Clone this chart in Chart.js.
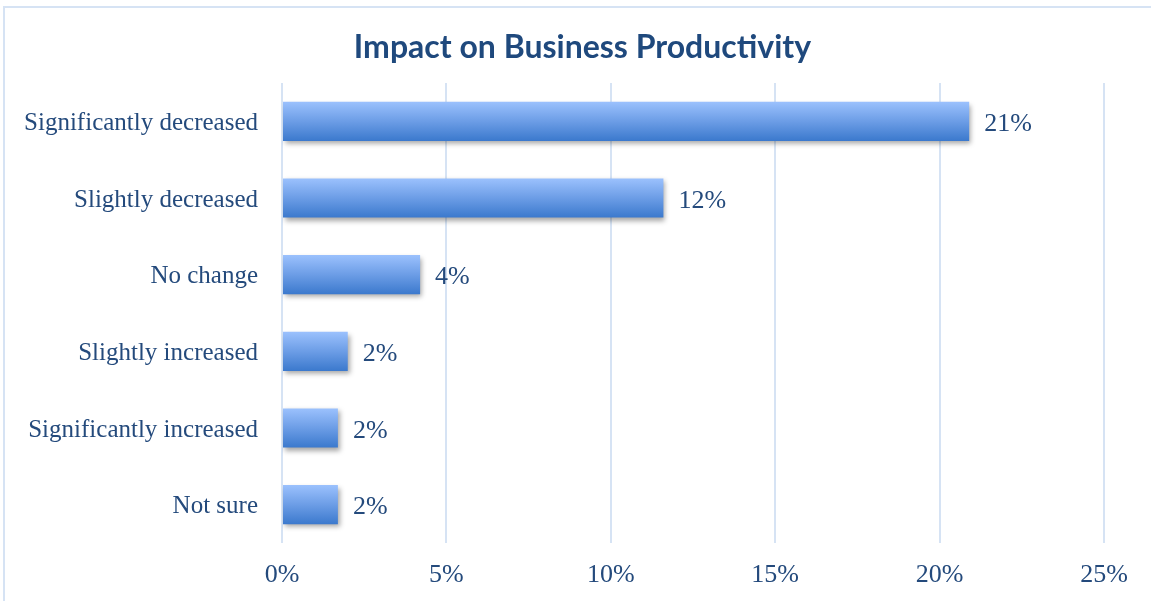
<!DOCTYPE html>
<html>
<head>
<meta charset="utf-8">
<title>Impact on Business Productivity</title>
<script src="https://cdn.jsdelivr.net/npm/chart.js@4.4.1/dist/chart.umd.min.js"></script>
<style>
    html, body { margin: 0; padding: 0; background: #fff; overflow: hidden; }
    #wrap { position: relative; width: 1151px; height: 601px; }
    #frame {
        position: absolute; left: 3px; top: 6px; width: 1200px; height: 700px;
        border: 2px solid #D6E3F4; box-sizing: border-box; pointer-events: none;
    }
    #chart { position: absolute; left: 0; top: 0; }
</style>
</head>
<body>
<div id="wrap">
    <div id="frame"></div>
    <canvas id="chart" width="1151" height="601"></canvas>
</div>
<script>
// Data
const categories = [
    'Significantly decreased',
    'Slightly decreased',
    'No change',
    'Slightly increased',
    'Significantly increased',
    'Not sure'
];
const shares = [20.9, 11.6, 4.2, 2.0, 1.7, 1.7];
const xTicks = [0, 5, 10, 15, 20, 25];
const chartTitle = 'Impact on Business Productivity';

const TEXT_COLOR = '#244A7C';
const LABEL_FONT = 'Liberation Serif';

// vertical gradient for each bar, sized from the category scale
function barGradient(context) {
    const chart = context.chart;
    const y = chart.scales.y;
    if (!y || context.dataIndex === undefined) return '#6A9BE5';
    const band = Math.abs(y.getPixelForValue(1) - y.getPixelForValue(0));
    const half = band * 0.51 / 2;
    const mid = y.getPixelForValue(context.dataIndex);
    if (!isFinite(mid) || !isFinite(half) || half <= 0) return '#6A9BE5';
    const g = chart.ctx.createLinearGradient(0, mid - half, 0, mid + half);
    g.addColorStop(0, '#9BC1FD');
    g.addColorStop(0.5, '#6C9DE6');
    g.addColorStop(1, '#3B79CD');
    return g;
}

// soft drop shadow under the bars
const shadowPlugin = {
    id: 'barShadow',
    beforeDatasetDraw(chart) {
        const c = chart.ctx;
        c.save();
        c.shadowColor = 'rgba(0, 0, 0, 0.35)';
        c.shadowBlur = 5;
        c.shadowOffsetX = 2;
        c.shadowOffsetY = 3;
    },
    afterDatasetDraw(chart) {
        chart.ctx.restore();
    }
};

// value labels to the right of each bar
const valueLabels = {
    id: 'valueLabels',
    afterDatasetsDraw(chart) {
        const c = chart.ctx;
        const meta = chart.getDatasetMeta(0);
        c.save();
        c.font = '26px "' + LABEL_FONT + '"';
        c.fillStyle = TEXT_COLOR;
        c.textAlign = 'left';
        c.textBaseline = 'middle';
        meta.data.forEach((bar, i) => {
            c.fillText(Math.round(shares[i]) + '%', bar.x + 15, bar.y + 3);
        });
        c.restore();
    }
};

// title centred on the frame rather than the plot
const titlePlugin = {
    id: 'frameTitle',
    afterDraw(chart) {
        const c = chart.ctx;
        c.save();
        c.font = 'bold 32px Lato';
        c.fillStyle = '#1F497D';
        c.textAlign = 'center';
        c.textBaseline = 'middle';
        c.fillText(chartTitle, chart.width / 2 + 7, 48);
        c.restore();
    }
};

const ctx = document.getElementById('chart').getContext('2d');
new Chart(ctx, {
    type: 'bar',
    data: {
        labels: categories,
        datasets: [{
            data: shares,
            backgroundColor: barGradient,
            borderWidth: 0,
            barPercentage: 0.51,
            categoryPercentage: 1
        }]
    },
    options: {
        indexAxis: 'y',
        responsive: false,
        animation: false,
        layout: { padding: { left: 0, right: 47, top: 83, bottom: 0 } },
        plugins: {
            legend: { display: false },
            tooltip: { enabled: false },
            title: { display: false }
        },
        scales: {
            x: {
                min: xTicks[0],
                max: xTicks[xTicks.length - 1],
                afterBuildTicks: (scale) => {
                    scale.ticks = xTicks.map(v => ({ value: v }));
                },
                afterFit: (scale) => { scale.height = 58; },
                grid: { color: '#D6E3F4', lineWidth: 2, drawTicks: false },
                border: { display: false },
                ticks: {
                    color: TEXT_COLOR,
                    font: { family: LABEL_FONT, size: 26 },
                    padding: 17,
                    callback: v => v + '%'
                }
            },
            y: {
                grid: { display: false, drawTicks: false },
                border: { display: false },
                afterFit: (scale) => { scale.width = 282; },
                ticks: {
                    color: TEXT_COLOR,
                    font: { family: LABEL_FONT, size: 25 },
                    padding: 24,
                    labelOffset: 2
                }
            }
        }
    },
    plugins: [shadowPlugin, valueLabels, titlePlugin]
});
</script>
</body>
</html>
